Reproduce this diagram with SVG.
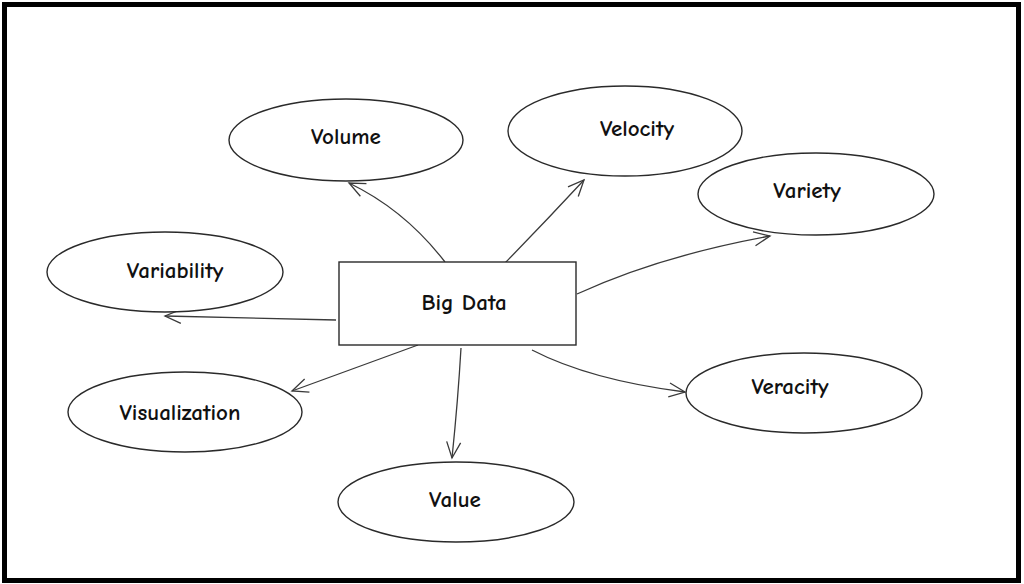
<svg xmlns="http://www.w3.org/2000/svg" width="1024" height="584" viewBox="0 0 1024 584">
<style>
.n{fill:#fff;stroke:#2a2a2a;stroke-width:1.4}
.t{font-family:"Comic Neue","Lato","Liberation Sans",sans-serif;font-size:23px;font-weight:700;fill:#111;text-anchor:middle;dominant-baseline:central}
.c{fill:none;stroke:#3a3a3a;stroke-width:1.3}
</style>
<defs>
<marker id="ah" viewBox="0 0 20 20" refX="18" refY="10" markerWidth="20" markerHeight="20" markerUnits="userSpaceOnUse" orient="auto">
<path d="M2,3 L18,10 L2,17" fill="none" stroke="#3a3a3a" stroke-width="1.3"/>
</marker>
</defs>
<rect x="0" y="0" width="1024" height="584" fill="#fff"/>
<rect x="4.5" y="4.5" width="1014" height="576" fill="none" stroke="#000" stroke-width="5"/>
<g id="connectors">
<path class="c" d="M445,262 Q405,210 349,183" marker-end="url(#ah)"/>
<path class="c" d="M505,263 Q545,222 584,180" marker-end="url(#ah)"/>
<path class="c" d="M577,294 Q660,256 770,236" marker-end="url(#ah)"/>
<path class="c" d="M336,320 Q250,318 165,316" marker-end="url(#ah)"/>
<path class="c" d="M418,345 Q355,368 292,391" marker-end="url(#ah)"/>
<path class="c" d="M461,348 Q458,400 452,458" marker-end="url(#ah)"/>
<path class="c" d="M532,350 Q590,380 685,392" marker-end="url(#ah)"/>
</g>
<g id="bigdata"><rect class="n" x="339" y="262" width="237" height="83"/><text class="t" x="464" y="302">Big Data</text></g>
<g id="volume"><ellipse class="n" cx="346" cy="140" rx="117" ry="41"/><text class="t" x="346" y="136">Volume</text></g>
<g id="velocity"><ellipse class="n" cx="625" cy="131" rx="117" ry="45"/><text class="t" x="637" y="128">Velocity</text></g>
<g id="variety"><ellipse class="n" cx="816" cy="194" rx="118" ry="41"/><text class="t" x="807" y="190">Variety</text></g>
<g id="variability"><ellipse class="n" cx="165" cy="272" rx="118" ry="40"/><text class="t" x="175" y="270">Variability</text></g>
<g id="visualization"><ellipse class="n" cx="185" cy="412" rx="117" ry="40"/><text class="t" x="180" y="412">Visualization</text></g>
<g id="value"><ellipse class="n" cx="456" cy="502" rx="118" ry="40"/><text class="t" x="455" y="499">Value</text></g>
<g id="veracity"><ellipse class="n" cx="804" cy="393" rx="118" ry="40"/><text class="t" x="790" y="386">Veracity</text></g>
</svg>
